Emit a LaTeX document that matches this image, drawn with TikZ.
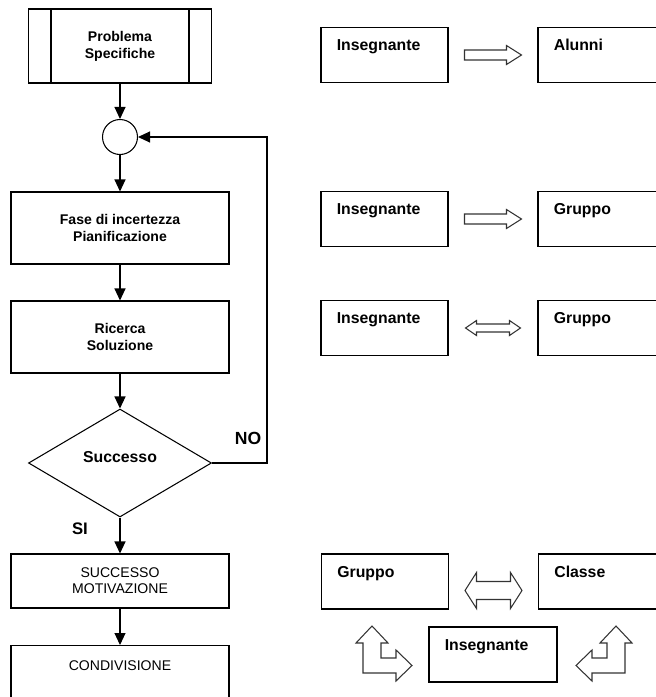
\documentclass[tikz,border=0pt]{standalone}
\usepackage{fontspec}
\setmainfont{Liberation Sans}
\usetikzlibrary{arrows.meta,shapes.geometric,calc}

\tikzset{
  box/.style={draw, line width=0.6pt, minimum width=4.36cm, align=center, inner sep=2pt},
  bxtxt/.style={font=\bfseries\fontsize{8}{9.7}\selectfont},
  cptxt/.style={font=\fontsize{8}{9.2}\selectfont},
  flow/.style={line width=0.6pt, -{Triangle[length=0.24cm,width=0.22cm]}},
  rbox/.style={draw, line width=0.6pt, minimum width=2.54cm, minimum height=1.1cm},
  rlbl/.style={anchor=base west, inner sep=0pt, xshift=0.32cm, yshift=-0.48cm, font=\bfseries\fontsize{9}{11}\selectfont},
  hollow/.style={draw=black!80, line width=0.6pt, line join=miter},
}

\begin{document}
\begin{tikzpicture}[x=0.02cm, y=-0.02cm]
	\useasboundingbox (0,0) rectangle (656,697);
	% flow chart
	\node[box, bxtxt, minimum width=3.66cm, minimum height=1.48cm] (prob) at (120,46) {Problema\\Specifiche};
	\draw[line width=0.6pt] ([xshift=0.46cm]prob.north west) -- ([xshift=0.46cm]prob.south west);
	\draw[line width=0.6pt] ([xshift=-0.46cm]prob.north east) -- ([xshift=-0.46cm]prob.south east);
	\node[draw, line width=0.6pt, circle, minimum size=0.7cm, inner sep=0pt] (circ) at (120,137) {};
	\node[box, bxtxt, minimum height=1.44cm] (fase) at (120,228) {Fase di incertezza\\Pianificazione};
	\node[box, bxtxt, minimum height=1.44cm] (ric) at (120,337) {Ricerca\\Soluzione};
	\node[draw, line width=0.6pt, diamond, minimum width=3.66cm, minimum height=2.16cm, inner sep=0pt,
	  label={[font=\bfseries\fontsize{9}{11}\selectfont, yshift=0.12cm]center:Successo}] (succ) at (120,463) {};
	\node[box, cptxt, minimum height=1.08cm] (motiv) at (120,581) {SUCCESSO\\MOTIVAZIONE};
	\node[box, minimum height=1.2cm, anchor=north, label={[cptxt, anchor=base, yshift=-0.5cm]north:CONDIVISIONE}] (cond) at (120,645) {};
	\coordinate (back) at (267,137);
	\draw[flow] (prob) -- (circ);
	\draw[flow] (circ) -- (fase);
	\draw[flow] (fase) -- (ric);
	\draw[flow] (ric) -- (succ);
	\draw[flow] (succ.east) -| (back) -- (circ.east);
	\draw[flow] (succ) -- (motiv);
	\draw[flow] (motiv) -- (cond);
	\node[font=\bfseries\fontsize{10}{12}\selectfont] (no) at (248,438) {NO};
	\node[font=\bfseries\fontsize{9.5}{11}\selectfont] (si) at (80,529) {SI};
	% right side
	\node[rbox, label={[rlbl]north west:Insegnante}] (ins1) at (384.5,55) {};
	\node[rbox, label={[rlbl]north west:Alunni}] (alu) at (601.5,55) {};
	\node[rbox, label={[rlbl]north west:Insegnante}] (ins2) at (384.5,219) {};
	\node[rbox, label={[rlbl]north west:Gruppo}] (grp2) at (601.5,219) {};
	\node[rbox, label={[rlbl]north west:Insegnante}] (ins3) at (384.5,328) {};
	\node[rbox, label={[rlbl]north west:Gruppo}] (grp3) at (601.5,328) {};
	\node[rbox, label={[rlbl]north west:Gruppo}] (grp4) at (385,581.5) {};
	\node[rbox, label={[rlbl]north west:Classe}] (cls) at (602,581.5) {};
	\node[rbox, minimum width=2.56cm, label={[rlbl]north west:Insegnante}] (ins4) at (493,654.5) {};
	\begin{scope}[shift={($(ins1.east)!0.5!(alu.west)$)}]
	\draw[hollow] (-28.5,-5) -- (13.5,-5) -- (13.5,-9.5) -- (28.5,0) -- (13.5,9.5) -- (13.5,5) -- (-28.5,5) -- cycle;
	\end{scope}
	\begin{scope}[shift={($(ins2.east)!0.5!(grp2.west)$)}]
	\draw[hollow] (-28.5,-5) -- (13.5,-5) -- (13.5,-9.5) -- (28.5,0) -- (13.5,9.5) -- (13.5,5) -- (-28.5,5) -- cycle;
	\end{scope}
	\begin{scope}[shift={($(ins3.east)!0.5!(grp3.west)$)}]
	\draw[hollow] (-27.5,0) -- (-16.5,-7.5) -- (-16.5,-4) -- (16.5,-4) -- (16.5,-7.5) -- (27.5,0) -- (16.5,7.5) -- (16.5,4) -- (-16.5,4) -- (-16.5,7.5) -- cycle;
	\end{scope}
	\begin{scope}[shift={($(grp4.east)!0.5!(cls.west)$)}, yshift=-0.18cm]
	\draw[hollow] (-28.5,0) -- (-17,-18) -- (-17,-9) -- (17,-9) -- (17,-18) -- (28.5,0) -- (17,18) -- (17,9) -- (-17,9) -- (-17,18) -- cycle;
	\end{scope}
	\draw[hollow] (372,626) -- (388,643) -- (381,643) -- (381,658) -- (396,658) -- (396,650) -- (412,665.5) -- (396,681) -- (396,673) -- (363,673) -- (363,643) -- (356,643) -- cycle;
	\draw[hollow] (616,626) -- (600,643) -- (607,643) -- (607,658) -- (592,658) -- (592,650) -- (576,665.5) -- (592,681) -- (592,673) -- (625,673) -- (625,643) -- (632,643) -- cycle;
\end{tikzpicture}
\end{document}
